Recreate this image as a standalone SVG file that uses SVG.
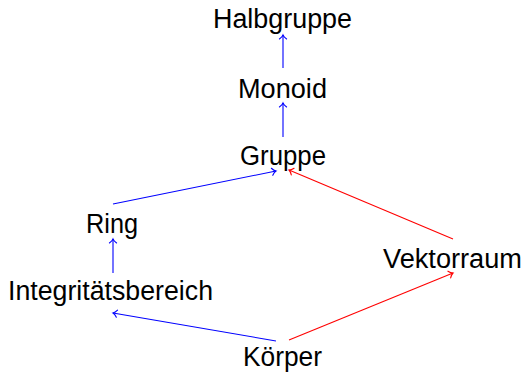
<svg xmlns="http://www.w3.org/2000/svg" width="525" height="374" viewBox="0 0 525 374">
  <style>
    text { font-family: "Liberation Sans", Arial, sans-serif; font-size: 27px; fill: #000; text-anchor: middle; }
    .edge { fill: none; stroke-width: 1.1; }
    .blue { stroke: #0000ff; }
    .red { stroke: #ff0000; }
  </style>
  <defs>
    <marker id="arrBlue" markerUnits="userSpaceOnUse" markerWidth="12" markerHeight="12" viewBox="-6 -6 12 12" refX="0" refY="0" orient="auto" overflow="visible">
      <path d="M-4,-3.6 C-2.6,-1.6 -1.2,-0.5 0,0 C-1.2,0.5 -2.6,1.6 -4,3.6" fill="none" stroke="#0000ff" stroke-width="1.1" stroke-linecap="round"/>
    </marker>
    <marker id="arrRed" markerUnits="userSpaceOnUse" markerWidth="12" markerHeight="12" viewBox="-6 -6 12 12" refX="0" refY="0" orient="auto" overflow="visible">
      <path d="M-4,-3.6 C-2.6,-1.6 -1.2,-0.5 0,0 C-1.2,0.5 -2.6,1.6 -4,3.6" fill="none" stroke="#ff0000" stroke-width="1.1" stroke-linecap="round"/>
    </marker>
  </defs>

  <g id="connectors">
    <line class="edge blue" x1="283" y1="68" x2="283" y2="35" marker-end="url(#arrBlue)"/>
    <line class="edge blue" x1="283" y1="137" x2="283" y2="103" marker-end="url(#arrBlue)"/>
    <line class="edge blue" x1="113" y1="204" x2="276" y2="171" marker-end="url(#arrBlue)"/>
    <line class="edge red" x1="453" y1="239" x2="289" y2="170" marker-end="url(#arrRed)"/>
    <line class="edge blue" x1="113" y1="273" x2="113" y2="239" marker-end="url(#arrBlue)"/>
    <line class="edge blue" x1="276" y1="341" x2="113" y2="313" marker-end="url(#arrBlue)"/>
    <line class="edge red" x1="289" y1="340" x2="453" y2="273" marker-end="url(#arrRed)"/>
  </g>

  <g id="halbgruppe"><text x="282.5" y="28" textLength="139" lengthAdjust="spacingAndGlyphs">Halbgruppe</text></g>
  <g id="monoid"><text x="282.5" y="98" textLength="89" lengthAdjust="spacingAndGlyphs">Monoid</text></g>
  <g id="gruppe"><text x="283" y="165" textLength="86" lengthAdjust="spacingAndGlyphs">Gruppe</text></g>
  <g id="ring"><text x="112" y="233" textLength="52" lengthAdjust="spacingAndGlyphs">Ring</text></g>
  <g id="vektorraum"><text x="452.5" y="268" textLength="139" lengthAdjust="spacingAndGlyphs">Vektorraum</text></g>
  <g id="integritaetsbereich"><text x="110.5" y="300" textLength="205" lengthAdjust="spacingAndGlyphs">Integritätsbereich</text></g>
  <g id="koerper"><text x="282.5" y="366" textLength="79" lengthAdjust="spacingAndGlyphs">Körper</text></g>
</svg>
